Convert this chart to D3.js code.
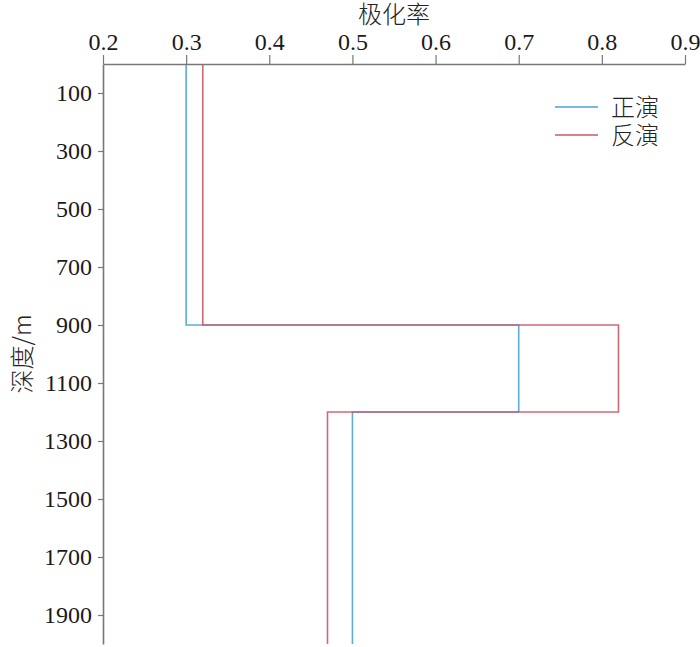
<!DOCTYPE html>
<html>
<head>
<meta charset="utf-8">
<script src="https://cdn.jsdelivr.net/npm/d3@7"></script>
<style>
  body { margin: 0; background: #fff; }
</style>
</head>
<body>
<div id="chart"></div>
<script>
// layer boundaries (depth, m) and values per layer
var depthBreaks = [0, 900, 1200, 2000];
var forwardVals = [0.3, 0.7, 0.5];    // 正演
var inverseVals = [0.32, 0.82, 0.47]; // 反演
var xTicks = [0.2, 0.3, 0.4, 0.5, 0.6, 0.7, 0.8, 0.9];
var yTicks = [100, 300, 500, 700, 900, 1100, 1300, 1500, 1700, 1900];
var seriesNames = ['正演', '反演'];
var seriesColors = ['#4aa3d3', '#c75a66'];

var width = 700, height = 647;
var padL = 103, padR = 685, padT = 64, padB = 644;

var svg = d3.select('#chart').append('svg')
    .attr('width', width)
    .attr('height', height);

var x = d3.scaleLinear().domain([0.2, 0.9]).range([padL, padR]);
var y = d3.scaleLinear().domain([0, 2000]).range([padT, padB]);

function layerPoints(vals) {
    var pts = [];
    for (var i = 0; i < vals.length; i++) {
        pts.push([vals[i], depthBreaks[i]]);
        pts.push([vals[i], depthBreaks[i + 1]]);
    }
    return pts;
}

var line = d3.line()
    .x(function(d) { return x(d[0]); })
    .y(function(d) { return y(d[1]); });

// series
var allVals = [forwardVals, inverseVals];
allVals.forEach(function(vals, i) {
    svg.append('path')
        .datum(layerPoints(vals))
        .attr('fill', 'none')
        .attr('stroke', seriesColors[i])
        .attr('stroke-width', 1.6)
        .attr('opacity', 0.9)
        .attr('d', line);
});

// axes
var xAxis = svg.append('g')
    .attr('transform', 'translate(0,' + padT + ')')
    .call(d3.axisTop(x).tickValues(xTicks).tickFormat(d3.format('.1f')).tickSizeInner(9).tickSizeOuter(0).tickPadding(5));
var yAxis = svg.append('g')
    .attr('transform', 'translate(' + padL + ',0)')
    .call(d3.axisLeft(y).tickValues(yTicks).tickFormat(d3.format('d')).tickSizeInner(5).tickSizeOuter(0).tickPadding(6));

[xAxis, yAxis].forEach(function(g) {
    g.select('.domain').attr('stroke', '#777').attr('stroke-width', 1.6);
    g.selectAll('.tick line').attr('stroke', '#777').attr('stroke-width', 1.2);
    g.selectAll('.tick text')
        .attr('fill', '#1a1a1a')
        .style('font-family', '"Liberation Serif", "DejaVu Serif", serif')
        .style('font-size', '24px');
});

// axis titles
svg.append('text')
    .attr('x', (padL + padR) / 2)
    .attr('y', 23)
    .attr('text-anchor', 'middle')
    .style('font-family', '"Noto Sans CJK SC", sans-serif')
    .style('font-weight', 300)
    .style('font-size', '24px')
    .attr('fill', '#222')
    .text('极化率');

svg.append('text')
    .attr('transform', 'translate(31,' + ((padT + padB) / 2) + ') rotate(-90)')
    .attr('text-anchor', 'middle')
    .style('font-family', '"Noto Sans CJK SC", sans-serif')
    .style('font-weight', 300)
    .style('font-size', '24px')
    .attr('fill', '#222')
    .text('深度/m');

// legend
var legend = svg.append('g').attr('transform', 'translate(555,107)');
seriesNames.forEach(function(name, i) {
    legend.append('line')
        .attr('x1', 0).attr('x2', 43)
        .attr('y1', i * 28).attr('y2', i * 28)
        .attr('stroke', seriesColors[i])
        .attr('stroke-width', 1.6);
    legend.append('text')
        .attr('x', 56)
        .attr('y', i * 28 + 9)
        .style('font-family', '"Noto Sans CJK SC", sans-serif')
        .style('font-weight', 300)
        .style('font-size', '24px')
        .attr('fill', '#222')
        .text(name);
});
</script>
</body>
</html>
